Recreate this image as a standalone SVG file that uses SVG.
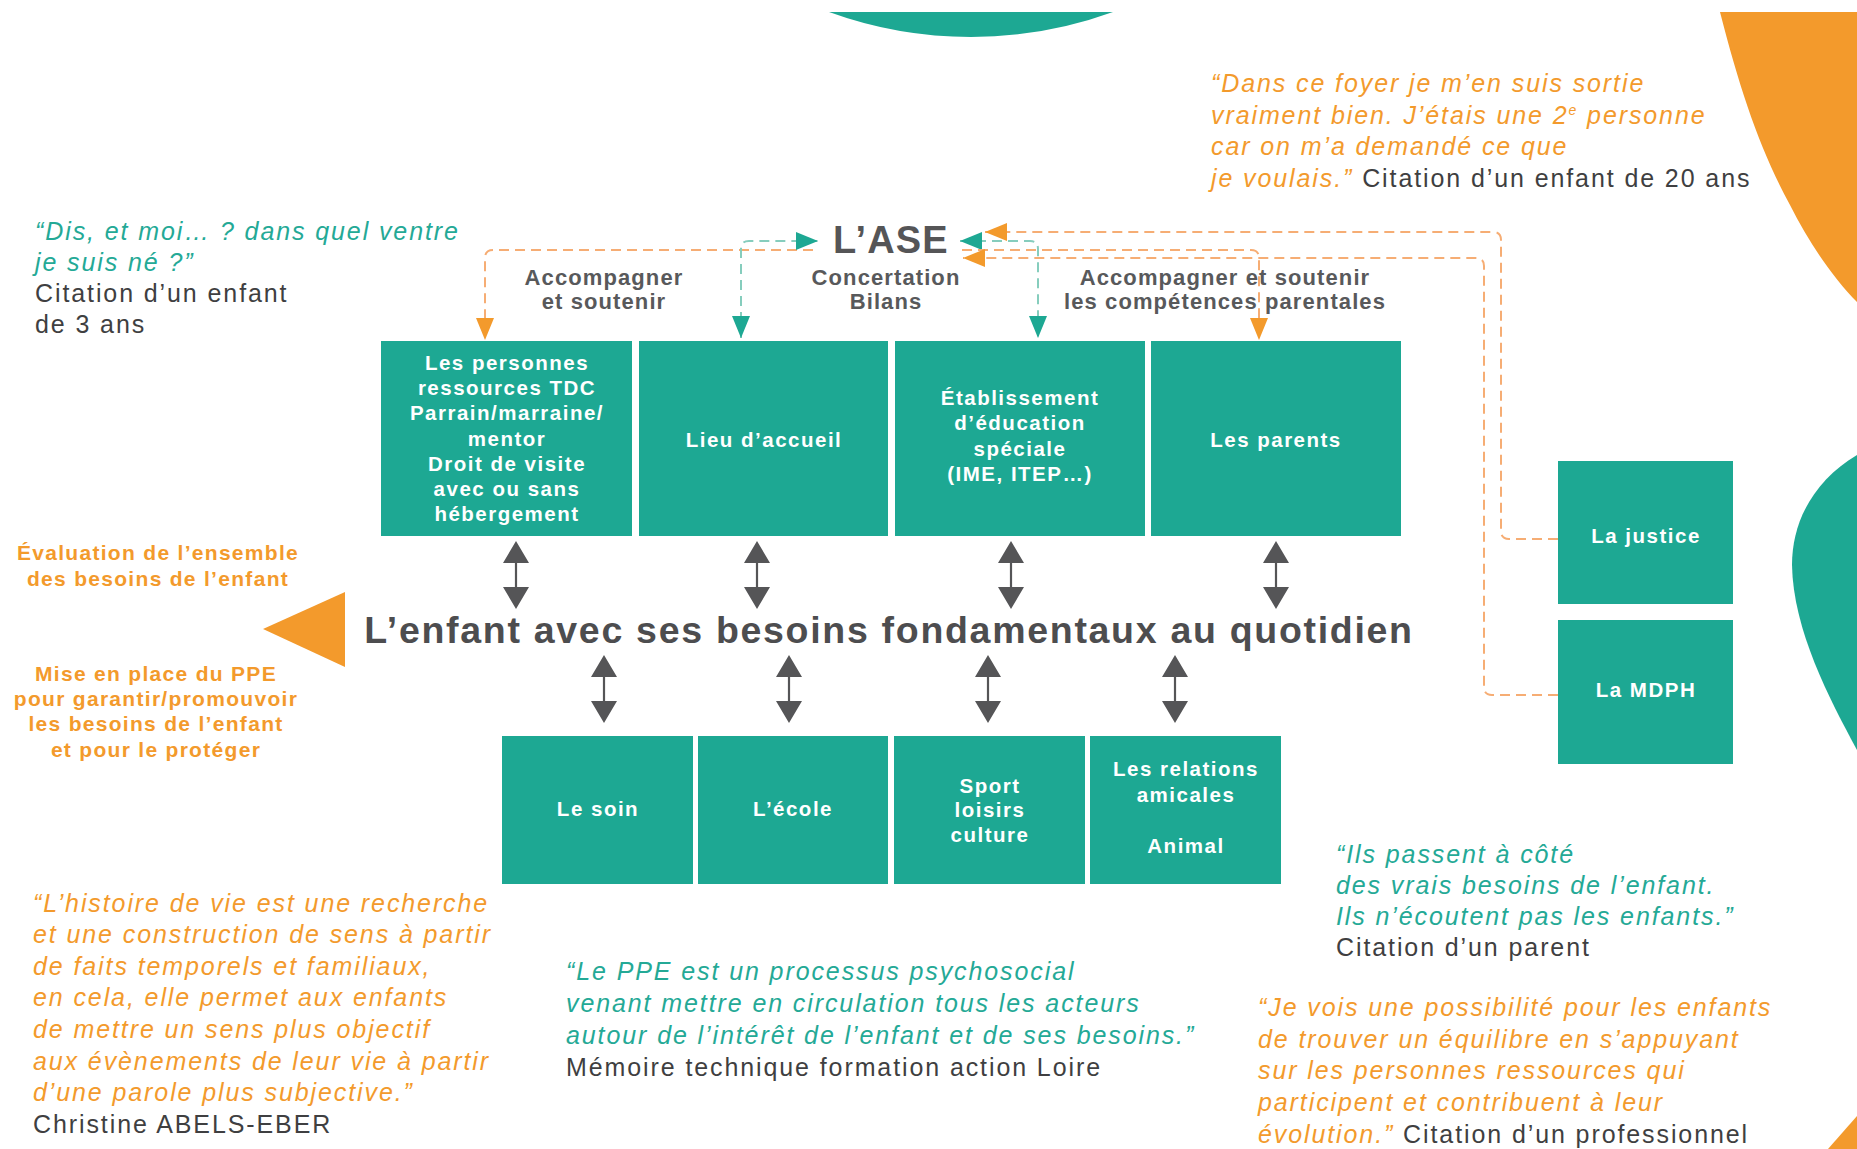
<svg xmlns="http://www.w3.org/2000/svg" xmlns:xlink="http://www.w3.org/1999/xlink" width="1857" height="1149" viewBox="0 0 1857 1149">
<style>
.box{fill:#1da893}
.bt{font-family:"Liberation Sans",Arial,sans-serif;font-weight:bold;font-size:20.5px;fill:#ffffff;text-anchor:middle;letter-spacing:1.5px}
.lbl{font-family:"Liberation Sans",Arial,sans-serif;font-weight:bold;font-size:22px;fill:#58595b;text-anchor:middle;letter-spacing:1.1px}
.ol{font-family:"Liberation Sans",Arial,sans-serif;font-weight:bold;font-size:21px;fill:#f39a2c;text-anchor:middle;letter-spacing:1.3px}
.q{font-family:"Liberation Sans",Arial,sans-serif;font-style:italic;font-size:25px;letter-spacing:1.9px}
.qt{fill:#24a996}
.qo{fill:#f39a2c}
.qg{fill:#3f3f41;font-style:normal}
.dO{fill:none;stroke:#f6ad74;stroke-width:2;stroke-dasharray:10 6}
.dT{fill:none;stroke:#86cdbd;stroke-width:2;stroke-dasharray:10 6}
</style>
<defs>
<marker id="ahO" viewBox="0 0 22 18" refX="22" refY="9" markerWidth="22" markerHeight="18" markerUnits="userSpaceOnUse" orient="auto-start-reverse"><path d="M0,0 L22,9 L0,18 Z" fill="#f39a2c"/></marker>
<marker id="ahT" viewBox="0 0 22 18" refX="22" refY="9" markerWidth="22" markerHeight="18" markerUnits="userSpaceOnUse" orient="auto-start-reverse"><path d="M0,0 L22,9 L0,18 Z" fill="#1da893"/></marker>
<g id="dbl"><line x1="0" y1="20" x2="0" y2="48" stroke="#555557" stroke-width="2.2"/><path d="M0,0 L13,22 L-13,22 Z M0,68 L13,46 L-13,46 Z" fill="#555557"/></g>
</defs>

<!-- decorative shapes -->
<path d="M829 12 A416 416 0 0 0 1113 12 Z" fill="#1da893"/>
<path d="M1720 12 C1740 90 1760 150 1790 205 C1810 245 1835 280 1857 302 L1857 12 Z" fill="#f39a2c"/>
<path d="M1857 455 C1815 480 1792 520 1792 565 C1793 630 1830 700 1857 750 Z" fill="#1da893"/>
<path d="M1828 1149 L1857 1116 L1857 1149 Z" fill="#f39a2c"/>

<!-- connectors -->
<g id="connectors">
<path class="dO" d="M813 250 H493 Q485 250 485 258 V340" marker-end="url(#ahO)"/>
<path class="dT" d="M741 338 V249 Q741 241 749 241 H818" marker-start="url(#ahT)" marker-end="url(#ahT)"/>
<path class="dT" d="M960 241 H1030 Q1038 241 1038 249 V338" marker-start="url(#ahT)" marker-end="url(#ahT)"/>
<path class="dO" d="M962 250 H1251 Q1259 250 1259 258 V340" marker-end="url(#ahO)"/>
<path class="dO" d="M1558 539 H1509 Q1501 539 1501 531 V240 Q1501 232 1493 232 H985" marker-end="url(#ahO)"/>
<path class="dO" d="M1558 695 H1492 Q1484 695 1484 687 V266 Q1484 258 1476 258 H963" marker-end="url(#ahO)"/>
<use xlink:href="#dbl" x="516" y="541"/>
<use xlink:href="#dbl" x="757" y="541"/>
<use xlink:href="#dbl" x="1011" y="541"/>
<use xlink:href="#dbl" x="1276" y="541"/>
<use xlink:href="#dbl" x="604" y="655"/>
<use xlink:href="#dbl" x="789" y="655"/>
<use xlink:href="#dbl" x="988" y="655"/>
<use xlink:href="#dbl" x="1175" y="655"/>
<path d="M263 629 L345 592 L345 667 Z" fill="#f39a2c"/>
</g>

<!-- ASE -->
<g id="ase">
<text x="891" y="253" font-family="Liberation Sans, Arial, sans-serif" font-weight="bold" font-size="38" fill="#555557" text-anchor="middle" letter-spacing="1.2">L’ASE</text>
</g>

<g id="labels">
<text class="lbl" x="604" y="285">Accompagner</text>
<text class="lbl" x="604" y="309">et soutenir</text>
<text class="lbl" x="886" y="285">Concertation</text>
<text class="lbl" x="886" y="309">Bilans</text>
<text class="lbl" x="1225" y="285">Accompagner et soutenir</text>
<text class="lbl" x="1225" y="309">les compétences parentales</text>
</g>

<!-- top boxes -->
<g id="n-personnes">
<rect class="box" x="381" y="341" width="251" height="195"/>
<text class="bt" x="507" y="370">Les personnes</text>
<text class="bt" x="507" y="395">ressources TDC</text>
<text class="bt" x="507" y="420">Parrain/marraine/</text>
<text class="bt" x="507" y="446">mentor</text>
<text class="bt" x="507" y="471">Droit de visite</text>
<text class="bt" x="507" y="496">avec ou sans</text>
<text class="bt" x="507" y="521">hébergement</text>
</g>
<g id="n-lieu">
<rect class="box" x="639" y="341" width="249" height="195"/>
<text class="bt" x="764" y="447">Lieu d’accueil</text>
</g>
<g id="n-etab">
<rect class="box" x="895" y="341" width="250" height="195"/>
<text class="bt" x="1020" y="405">Établissement</text>
<text class="bt" x="1020" y="430">d’éducation</text>
<text class="bt" x="1020" y="456">spéciale</text>
<text class="bt" x="1020" y="481">(IME, ITEP…)</text>
</g>
<g id="n-parents">
<rect class="box" x="1151" y="341" width="250" height="195"/>
<text class="bt" x="1276" y="447">Les parents</text>
</g>

<!-- right boxes -->
<g id="n-justice">
<rect class="box" x="1558" y="461" width="175" height="143"/>
<text class="bt" x="1646" y="543">La justice</text>
</g>
<g id="n-mdph">
<rect class="box" x="1558" y="620" width="175" height="144"/>
<text class="bt" x="1646" y="697">La MDPH</text>
</g>

<!-- center -->
<g id="n-enfant">
<text x="889" y="643" font-family="Liberation Sans, Arial, sans-serif" font-weight="bold" font-size="37.5" fill="#4d4d4f" text-anchor="middle" letter-spacing="1.7">L’enfant avec ses besoins fondamentaux au quotidien</text>
</g>

<g id="n-evaluation">
<text class="ol" x="158" y="560">Évaluation de l’ensemble</text>
<text class="ol" x="158" y="586">des besoins de l’enfant</text>
</g>
<g id="n-ppe">
<text class="ol" x="156" y="681">Mise en place du PPE</text>
<text class="ol" x="156" y="706">pour garantir/promouvoir</text>
<text class="ol" x="156" y="731">les besoins de l’enfant</text>
<text class="ol" x="156" y="757">et pour le protéger</text>
</g>

<!-- bottom boxes -->
<g id="n-soin">
<rect class="box" x="502" y="736" width="191" height="148"/>
<text class="bt" x="598" y="816">Le soin</text>
</g>
<g id="n-ecole">
<rect class="box" x="698" y="736" width="190" height="148"/>
<text class="bt" x="793" y="816">L’école</text>
</g>
<g id="n-sport">
<rect class="box" x="894" y="736" width="191" height="148"/>
<text class="bt" x="990" y="793">Sport</text>
<text class="bt" x="990" y="817">loisirs</text>
<text class="bt" x="990" y="842">culture</text>
</g>
<g id="n-relations">
<rect class="box" x="1090" y="736" width="191" height="148"/>
<text class="bt" x="1186" y="776">Les relations</text>
<text class="bt" x="1186" y="802">amicales</text>
<text class="bt" x="1186" y="853">Animal</text>
</g>

<!-- quotes -->
<g id="q-dis">
<text class="q qt" x="35" y="240">“Dis, et moi… ? dans quel ventre</text>
<text class="q qt" x="35" y="271">je suis né ?”</text>
<text class="q qg" x="35" y="302">Citation d’un enfant</text>
<text class="q qg" x="35" y="333">de 3 ans</text>
</g>
<g id="q-foyer">
<text class="q qo" x="1211" y="92">“Dans ce foyer je m’en suis sortie</text>
<text class="q qo" x="1211" y="123.7">vraiment bien. J’étais une 2<tspan font-size="14" dy="-9">e</tspan><tspan dy="9"> personne</tspan></text>
<text class="q qo" x="1211" y="155.3">car on m’a demandé ce que</text>
<text class="q qo" x="1211" y="187">je voulais.”<tspan class="qg"> Citation d’un enfant de 20 ans</tspan></text>
</g>
<g id="q-histoire">
<text class="q qo" x="33" y="911.5">“L’histoire de vie est une recherche</text>
<text class="q qo" x="33" y="943.1">et une construction de sens à partir</text>
<text class="q qo" x="33" y="974.7">de faits temporels et familiaux,</text>
<text class="q qo" x="33" y="1006.3">en cela, elle permet aux enfants</text>
<text class="q qo" x="33" y="1037.9">de mettre un sens plus objectif</text>
<text class="q qo" x="33" y="1069.5">aux évènements de leur vie à partir</text>
<text class="q qo" x="33" y="1101.1">d’une parole plus subjective.”</text>
<text class="q qg" x="33" y="1132.7">Christine ABELS-EBER</text>
</g>
<g id="q-ppe">
<text class="q qt" x="566" y="980">“Le PPE est un processus psychosocial</text>
<text class="q qt" x="566" y="1012">venant mettre en circulation tous les acteurs</text>
<text class="q qt" x="566" y="1043.5">autour de l’intérêt de l’enfant et de ses besoins.”</text>
<text class="q qg" x="566" y="1075.5">Mémoire technique formation action Loire</text>
</g>
<g id="q-parent">
<text class="q qt" x="1336" y="863">“Ils passent à côté</text>
<text class="q qt" x="1336" y="894">des vrais besoins de l’enfant.</text>
<text class="q qt" x="1336" y="925">Ils n’écoutent pas les enfants.”</text>
<text class="q qg" x="1336" y="956">Citation d’un parent</text>
</g>
<g id="q-pro">
<text class="q qo" x="1258" y="1016">“Je vois une possibilité pour les enfants</text>
<text class="q qo" x="1258" y="1047.7">de trouver un équilibre en s’appuyant</text>
<text class="q qo" x="1258" y="1079.4">sur les personnes ressources qui</text>
<text class="q qo" x="1258" y="1111">participent et contribuent à leur</text>
<text class="q qo" x="1258" y="1142.7">évolution.”<tspan class="qg"> Citation d’un professionnel</tspan></text>
</g>
</svg>
